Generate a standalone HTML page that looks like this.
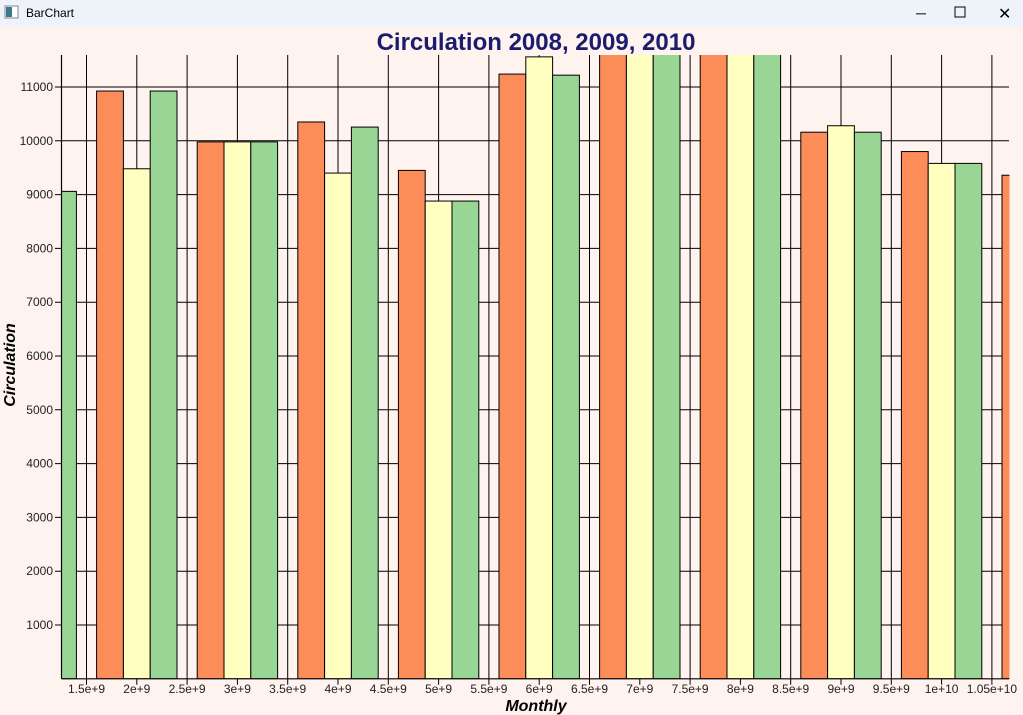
<!DOCTYPE html>
<html><head><meta charset="utf-8"><style>
html,body{margin:0;padding:0;width:1023px;height:715px;overflow:hidden;background:#fef3ef;font-family:"Liberation Sans",sans-serif}
#tb{position:absolute;left:0;top:0;width:1023px;height:27px;background:#eef2f9}
</style></head><body>
<div id="tb"></div>
<svg id="s" width="1023" height="715" style="position:absolute;left:0;top:0" xmlns="http://www.w3.org/2000/svg">
<defs><clipPath id="c"><rect x="61.5" y="55" width="948" height="624"/></clipPath></defs>
<rect x="5" y="6" width="13" height="12" fill="#fff" stroke="#888"/><rect x="6" y="7" width="6" height="10" fill="#3a7a8a"/>
<text x="26" y="17" font-size="12" fill="#000">BarChart</text>
<text x="916" y="18" font-size="14">─</text>
<rect x="955" y="7" width="10" height="10" fill="none" stroke="#000"/>
<text x="998" y="19" font-size="16">✕</text>
<g id="grid" stroke="#000" stroke-width="1"></g>
<g id="bars" clip-path="url(#c)" stroke="#000" stroke-width="1"></g>
<g id="ax" stroke="#000" stroke-width="1.2"></g>
<g id="lab" font-size="12" fill="#222"></g>
<text x="536" y="50" text-anchor="middle" font-size="24" font-weight="bold" fill="#1c1c6e">Circulation 2008, 2009, 2010</text>
<text x="536" y="711" text-anchor="middle" font-size="16" font-weight="bold" font-style="italic" fill="#000">Monthly</text>
<text transform="translate(15,365) rotate(-90)" text-anchor="middle" font-size="16" font-weight="bold" font-style="italic" fill="#000">Circulation</text>
</svg>
<script>
var NS="http://www.w3.org/2000/svg";
function el(p,t,a){var e=document.createElementNS(NS,t);for(var k in a)e.setAttribute(k,a[k]);document.getElementById(p).appendChild(e);return e;}
var L=61.5,R=1009,T=55,B=678.8,py=53.8;
function Y(v){return B-v/1000*py;}
function X(v){return 86.5+(v-1.5)*100.6;}
for(var v=1000;v<=11000;v+=1000){var y=Y(v);el("grid","line",{x1:55,x2:R,y1:y,y2:y});
 var t=el("lab","text",{x:53,y:y+4,"text-anchor":"end"});t.textContent=v;}
var xl=["1.5e+9","2e+9","2.5e+9","3e+9","3.5e+9","4e+9","4.5e+9","5e+9","5.5e+9","6e+9","6.5e+9","7e+9","7.5e+9","8e+9","8.5e+9","9e+9","9.5e+9","1e+10","1.05e+10"];
for(var i=0;i<xl.length;i++){var x=X(1.5+i*0.5);el("grid","line",{x1:x,x2:x,y1:T,y2:B+6});
 var t=el("lab","text",{x:x,y:693,"text-anchor":"middle"});t.textContent=xl[i];}
var d=[[null,null,9060],[10925,9480,10925],[9980,9980,9980],[10350,9400,10255],[9450,8880,8880],[11240,11560,11220],[13000,13000,13000],[13000,13000,13000],[10160,10280,10160],[9800,9580,9580],[9360,9360,9360]];
var col=["#fc8d59","#ffffbf","#99d594"],w=26.8;
for(var m=1;m<=11;m++){var c=X(m);for(var k=0;k<3;k++){var v=d[m-1][k];if(v==null)continue;
 var y=Y(v);el("bars","rect",{x:c-1.5*w+k*w,y:y,width:w,height:B-y,fill:col[k]});}}
el("ax","line",{x1:L,x2:L,y1:T,y2:B});el("ax","line",{x1:L,x2:R,y1:B,y2:B});
</script>
</body></html>
